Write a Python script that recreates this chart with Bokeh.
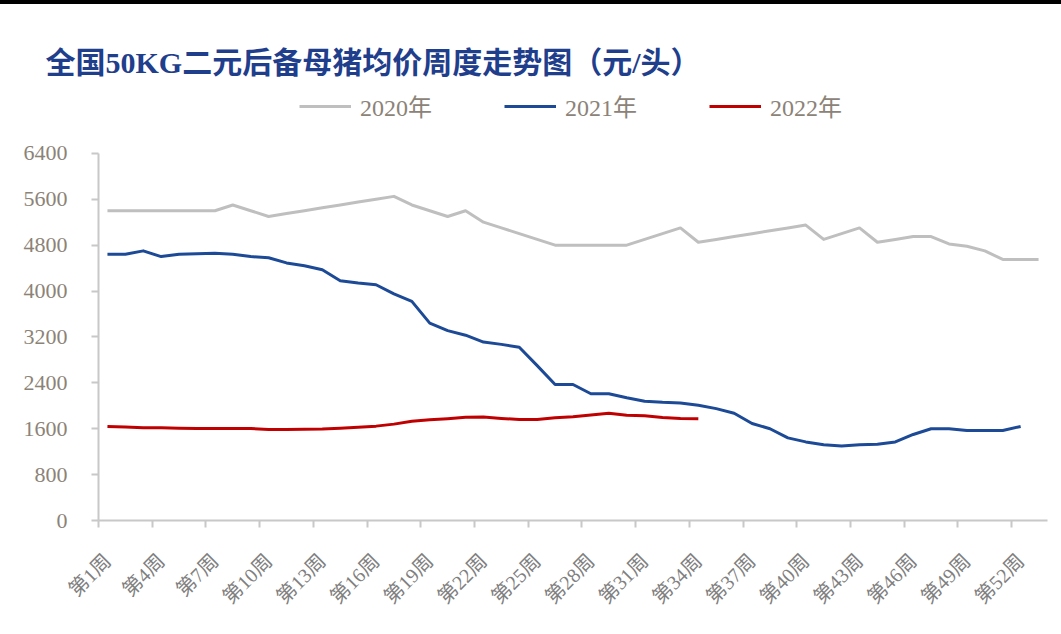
from bokeh.plotting import figure
from bokeh.models import FixedTicker, Legend, LegendItem, Range1d, Div
from bokeh.layouts import column
from bokeh.embed import file_html
from bokeh.resources import INLINE

# ---- data ----
weeks = list(range(1, 54))
tick_weeks = [1, 4, 7, 10, 13, 16, 19, 22, 25, 28, 31, 34, 37, 40, 43, 46, 49, 52]
tick_labels = ["第1周", "第4周", "第7周", "第10周", "第13周", "第16周", "第19周", "第22周", "第25周",
               "第28周", "第31周", "第34周", "第37周", "第40周", "第43周", "第46周", "第49周", "第52周"]
boundary_ticks = [0.5, 3.5, 6.5, 9.5, 12.5, 15.5, 18.5, 21.5, 24.5, 27.5, 30.5, 33.5, 36.5, 39.5,
                  42.5, 45.5, 48.5, 51.5]
y_ticks = [0, 800, 1600, 2400, 3200, 4000, 4800, 5600, 6400]

price_2020 = [5400, 5400, 5400, 5400, 5400, 5400, 5400, 5500, 5400, 5300,
              5350, 5400, 5450, 5500, 5550, 5600, 5650, 5500, 5400, 5300,
              5400, 5200, 5100, 5000, 4900, 4800, 4800, 4800, 4800, 4800,
              4900, 5000, 5100, 4850, 4900, 4950, 5000, 5050, 5100, 5150,
              4900, 5000, 5100, 4850, 4900, 4950, 4950, 4820, 4780, 4700,
              4550, 4550, 4550]
price_2021 = [4640, 4640, 4700, 4600, 4640, 4650, 4660, 4640, 4600, 4580,
              4490, 4440, 4370, 4180, 4140, 4110, 3950, 3820, 3440, 3310,
              3230, 3110, 3070, 3020, 2700, 2370, 2370, 2210, 2210, 2140,
              2080, 2060, 2050, 2010, 1950, 1870, 1690, 1600, 1440, 1370,
              1320, 1300, 1320, 1330, 1370, 1500, 1600, 1600, 1570, 1570,
              1570, 1640]
price_2022 = [1640, 1630, 1615, 1615, 1610, 1605, 1605, 1605, 1605, 1585,
              1585, 1590, 1595, 1610, 1625, 1645, 1680, 1730, 1755, 1775,
              1800, 1805, 1780, 1760, 1760, 1790, 1810, 1840, 1870, 1835,
              1825, 1795, 1780, 1775]
series_names = ["2020年", "2021年", "2022年"]
title_text = "全国50KG二元后备母猪均价周度走势图（元/头）"

# ---- styles / layout ----
C2020, C2021, C2022 = "#BFBFBF", "#1C4A96", "#C00000"
AXIS_C = "#C8C8C8"
LABEL_C = "#8C8378"
SERIF = "Liberation Serif, Noto Sans CJK SC"
Y_TOP = 7600  # frame extends above the 6400 axis end to hold the legend

p = figure(width=1053, height=626, output_backend="svg", toolbar_location=None,
           x_range=Range1d(0.5, 53.5), y_range=Range1d(0, Y_TOP),
           min_border_left=98, min_border_right=6, min_border_top=80, min_border_bottom=110,
           background_fill_color="white", border_fill_color="white", margin=0)
p.outline_line_color = None
p.grid.visible = False

r20 = p.line(weeks[:len(price_2020)], price_2020, line_color=C2020, line_width=3, line_join="round")
r21 = p.line(weeks[:len(price_2021)], price_2021, line_color=C2021, line_width=3, line_join="round")
r22 = p.line(weeks[:len(price_2022)], price_2022, line_color=C2022, line_width=3, line_join="round")

# y axis
ya = p.yaxis[0]
ya.ticker = FixedTicker(ticks=y_ticks)
ya.bounds = (y_ticks[0], y_ticks[-1])
ya.axis_line_color = AXIS_C
ya.axis_line_width = 2
ya.major_tick_line_color = AXIS_C
ya.major_tick_line_width = 2
ya.major_tick_out = 7
ya.major_tick_in = 0
ya.minor_tick_line_color = None
ya.major_label_standoff = 24
ya.major_label_text_font = SERIF
ya.major_label_text_font_size = "22px"
ya.major_label_text_color = LABEL_C

# x axis
xa = p.xaxis[0]
xa.ticker = FixedTicker(ticks=tick_weeks, minor_ticks=boundary_ticks)
xa.major_label_overrides = {w: lab for w, lab in zip(tick_weeks, tick_labels)}
xa.major_label_orientation = 0.785398
xa.axis_line_color = AXIS_C
xa.axis_line_width = 2
xa.major_tick_line_color = None
xa.minor_tick_line_color = AXIS_C
xa.minor_tick_line_width = 2
xa.minor_tick_out = 7
xa.minor_tick_in = 0
xa.major_label_standoff = 30
xa.major_label_text_font = SERIF
xa.major_label_text_font_size = "20px"
xa.major_label_text_color = "#808080"

# legend (inside the frame, above the 6400 line)
legend = Legend(items=[LegendItem(label=series_names[0], renderers=[r20]),
                       LegendItem(label=series_names[1], renderers=[r21]),
                       LegendItem(label=series_names[2], renderers=[r22])],
                orientation="horizontal", location=(201, 397),
                border_line_color=None, background_fill_alpha=0,
                padding=0, margin=0, glyph_width=52, glyph_height=24, label_height=24,
                label_standoff=9, spacing=72,
                label_text_font=SERIF, label_text_font_size="24px",
                label_text_color=LABEL_C)
p.add_layout(legend, "center")

# title
p.title.text = title_text
p.title.align = "left"
p.title.offset = -53
p.title.standoff = 11
p.title.text_font = SERIF
p.title.text_font_size = "30px"
p.title.text_font_style = "bold"
p.title.text_color = "#1F3E8C"

# top black rule
bar = Div(width=1061, height=4, margin=0, styles={"background-color": "black"})

layout = column(bar, p, spacing=0)
open("out.html", "w").write(file_html(layout, INLINE))
